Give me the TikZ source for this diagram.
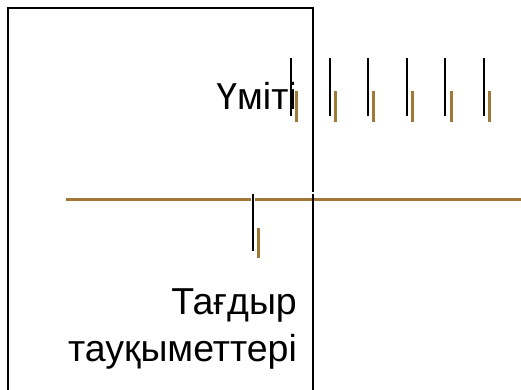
\documentclass[tikz,border=0pt]{standalone}
\usepackage{fontspec}
\setmainfont{Liberation Sans}
\definecolor{gold}{RGB}{160,120,56}
\begin{document}
\begin{tikzpicture}[x=1pt,y=-1pt,
  tick/.style={line width=2pt,black},
  bar/.style={line width=3pt,gold},
  lbl/.style={inner sep=0pt,font=\fontsize{37.5}{47.4}\selectfont}]
\useasboundingbox (0,0) rectangle (521,390);
% brown horizontal line
\draw[gold,line width=3.2pt] (66,199.5) -- (521,199.5);
% frame
\draw[line width=2pt] (8,396) -- (8,8) -- (313.3,8) -- (313.3,396);
\draw[white,line width=2pt] (313.3,191.5) -- (313.3,193.5);
% labels
\node[lbl,anchor=base east] (hope) at (297,109.5) {Үміті};
\node[lbl,anchor=base east,align=right] (fate) at (297,361.7) {Тағдыр\\тауқыметтері};
% top ticks
\foreach \i in {0,...,5} {
  \draw[tick] ({291+38.6*\i},58) -- ({291+38.6*\i},116);
  \draw[bar] ({296.7+38.6*\i},91.5) -- ({296.7+38.6*\i},121.7);
}
% lower tick
\draw[white,line width=4pt] (252.7,193.5) -- (252.7,251.5);
\draw[tick] (252.7,194) -- (252.7,251);
\draw[bar] (258.3,228.3) -- (258.3,257.7);
\end{tikzpicture}
\end{document}
